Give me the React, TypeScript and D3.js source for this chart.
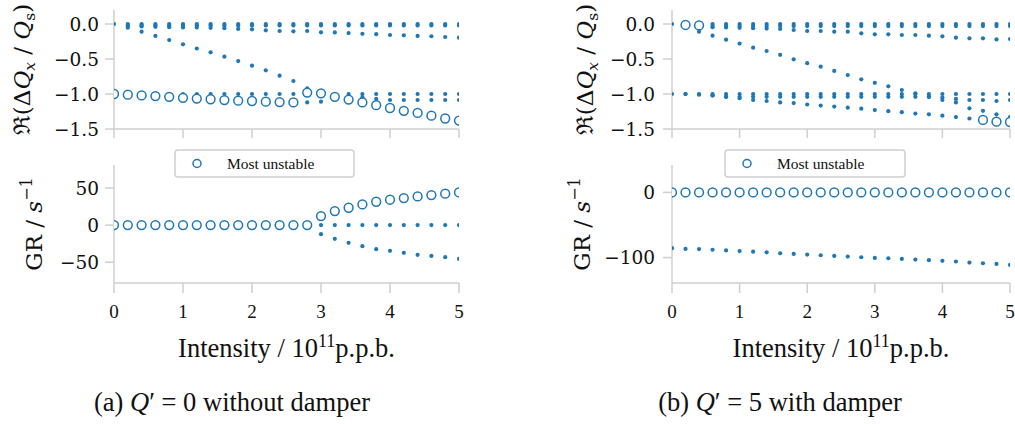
import React from "react";
import * as d3 from "d3";

// ---------- data ----------
const intensity = [0, 0.2, 0.4, 0.6, 0.8, 1.0, 1.2, 1.4, 1.6, 1.8, 2.0, 2.2, 2.4, 2.6, 2.8, 3.0, 3.2, 3.4, 3.6, 3.8, 4.0, 4.2, 4.4, 4.6, 4.8, 5.0];

type S = (number | null)[];

// (a) Q' = 0 without damper : real tune shift of all modes
const aReZero: S = [0, 0, 0, 0, 0, 0, 0, 0, 0, 0, 0, 0, 0, 0, 0, 0, 0, 0, 0, 0, 0, 0, 0, 0, 0, 0];
const aReNearZero: S = [null, -0.02, -0.02, -0.02, -0.02, -0.02, -0.02, -0.02, -0.02, -0.02, -0.02, -0.02, -0.02, -0.02, -0.02, -0.02, -0.02, -0.02, -0.02, -0.02, -0.02, -0.02, -0.02, -0.02, -0.02, -0.02];
const aReSlow: S = [null, -0.03, -0.035, -0.04, -0.045, -0.05, -0.05, -0.055, -0.06, -0.071, -0.076, -0.09, -0.1, -0.105, -0.1, -0.119, -0.12, -0.13, -0.14, -0.145, -0.157, -0.162, -0.17, -0.175, -0.186, -0.195];
const aReFast: S = [null, -0.052, -0.11, -0.17, -0.23, -0.29, -0.35, -0.405, -0.467, -0.53, -0.595, -0.662, -0.738, -0.814, -0.92, null, null, null, null, null, null, null, null, null, null, null];
const aReMinusOne: S = [-1, -1, -1, -1, -1, -1, -1, -1, -1, -1, -1, -1, -1, -1, -1, -1, -1, -1, -1, -1, -1, -1, -1, -1, -1, -1];
const aReLow: S = [null, null, null, null, null, null, null, null, null, null, null, null, null, null, -1.12, -1.11, -1.07, -1.06, -1.045, -1.07, -1.086, -1.086, -1.086, -1.086, -1.086, -1.086];
const aReMostUnstable: S = [-1.0, -1.01, -1.02, -1.03, -1.04, -1.055, -1.065, -1.075, -1.087, -1.095, -1.1, -1.11, -1.115, -1.12, -0.98, -0.99, -1.04, -1.08, -1.12, -1.16, -1.2, -1.24, -1.27, -1.31, -1.35, -1.38];
// growth rates
const aGrZero: S = [0, 0, 0, 0, 0, 0, 0, 0, 0, 0, 0, 0, 0, 0, 0, 0, 0, 0, 0, 0, 0, 0, 0, 0, 0, 0];
const aGrDamped: S = [null, null, null, null, null, null, null, null, null, null, null, null, null, null, null, -12.2, -18.5, -23.9, -28.4, -32.4, -34.7, -37.4, -40, -41.5, -43.2, -45.5];
const aGrMostUnstable: S = [0, 0, 0, 0, 0, 0, 0, 0, 0, 0, 0, 0, 0, 0, 0, 12.2, 18.9, 23.4, 27.9, 31.5, 34.2, 36.5, 38.7, 40.5, 42.3, 44.1];

// (b) Q' = 5 with damper
const bReZero: S = [0, 0, 0, 0, 0, 0, 0, 0, 0, 0, 0, 0, 0, 0, 0, 0, 0, 0, 0, 0, 0, 0, 0, 0, 0, 0];
const bReNearZero: S = [null, null, null, -0.03, -0.03, -0.03, -0.03, -0.03, -0.03, -0.03, -0.03, -0.03, -0.03, -0.03, -0.03, -0.03, -0.03, -0.03, -0.03, -0.03, -0.03, -0.03, -0.03, -0.03, -0.03, -0.03];
const bReSlow: S = [null, null, null, -0.045, -0.05, -0.055, -0.06, -0.065, -0.07, -0.086, -0.1, -0.1, -0.11, -0.11, -0.133, -0.148, -0.148, -0.157, -0.157, -0.167, -0.176, -0.195, -0.205, -0.205, -0.22, -0.214];
const bReFast: S = [null, -0.055, -0.11, -0.167, -0.224, -0.28, -0.338, -0.386, -0.44, -0.505, -0.56, -0.61, -0.67, -0.73, -0.79, -0.84, -0.89, -0.943, -0.99, -1.04, -1.086, -1.12, -1.205, -1.24, -1.29, -1.33];
const bReMinusOne: S = [-1, -1, -1, -1, -1, -1, -1, -1, -1, -1, -1, -1, -1, -1, -1, -1, -1, -1, -1, -1, -1, -1, -1, -1, -1, -1];
const bReMid: S = [null, null, null, -1.02, -1.04, -1.04, -1.04, -1.04, -1.04, -1.04, -1.04, -1.04, -1.04, -1.04, -1.04, -1.04, -1.04, -1.04, -1.04, -1.04, -1.05, -1.07, -1.086, -1.086, -1.1, -1.086];
const bReLow: S = [null, -1.0, -1.01, -1.02, -1.04, -1.06, -1.086, -1.1, -1.12, -1.13, -1.15, -1.165, -1.18, -1.195, -1.21, -1.23, -1.245, -1.26, -1.28, -1.29, -1.31, -1.33, -1.35, null, null, null];
const bReMostUnstable: S = [null, -0.014, -0.02, null, null, null, null, null, null, null, null, null, null, null, null, null, null, null, null, null, null, null, null, -1.37, -1.395, -1.4];
const bGrDamped: S = [-85.6, -86.7, -87, -88, -89, -90, -91, -92, -93.4, -94.4, -95.4, -96.4, -97.4, -98.5, -99.5, -100.5, -101, -102, -103, -104, -105, -106, -107.6, -108.7, -109.7, -111.2];
const bGrMostUnstable: S = [0, 0, 0, 0, 0, 0, 0, 0, 0, 0, 0, 0, 0, 0, 0, 0, 0, 0, 0, 0, 0, 0, 0, 0, 0, 0];

const xTicks = [0, 1, 2, 3, 4, 5];
const reTicks = [0, -0.5, -1.0, -1.5];
const aGrTicks = [50, 0, -50];
const bGrTicks = [0, -100];
const legendLabel = "Most unstable";

// ---------- styling ----------
const BLUE = "#1f77b4";
const SPINE = "#cdd1cd";
const TEXT_FONT = "'Liberation Serif', 'DejaVu Serif', serif";
const MATH_FONT = "'DejaVu Serif', 'Liberation Serif', serif";

const fmtTick = (v: number, digits: number) =>
  (v < 0 ? "\u2212" : "") + Math.abs(v).toFixed(digits);

type PanelProps = {
  id: string;
  xRange: [number, number];
  reSeries: S[];
  reCircles: S;
  grSeries: S[];
  grCircles: S;
  grDomain: [number, number];
  grTicks: number[];
  tickLabelX: number;
  reLabelX: number;
  grLabelX: number;
  legendX: [number, number];
  caption: React.ReactNode;
  captionX: number;
};

const TOP: [number, number] = [129, 10];
const BOT: [number, number] = [283, 165];

function Panel(p: PanelProps) {
  const x = d3.scaleLinear().domain([0, 5]).range(p.xRange);
  const yRe = d3.scaleLinear().domain([-1.5, 0.2]).range(TOP);
  const yGr = d3.scaleLinear().domain(p.grDomain).range(BOT);
  const [xl, xr] = p.xRange;

  const dots = (series: S[], y: d3.ScaleLinear<number, number>) =>
    series.flatMap((s, si) =>
      s.map((v, i) =>
        v === null ? null : (
          <circle key={`${si}-${i}`} cx={x(intensity[i])} cy={y(v)} r={2.1} fill={BLUE} />
        )
      )
    );
  const rings = (s: S, y: d3.ScaleLinear<number, number>) =>
    s.map((v, i) =>
      v === null ? null : (
        <circle key={`c${i}`} cx={x(intensity[i])} cy={y(v)} r={4.4} fill="white" stroke={BLUE} strokeWidth={1.5} />
      )
    );

  const reCenter = (TOP[0] + TOP[1]) / 2;
  const grCenter = (BOT[0] + BOT[1]) / 2;

  return (
    <g>
      <defs>
        <clipPath id={`${p.id}-top`}>
          <rect x={xl} y={TOP[1]} width={xr - xl} height={TOP[0] - TOP[1]} />
        </clipPath>
        <clipPath id={`${p.id}-bot`}>
          <rect x={xl} y={BOT[1]} width={xr - xl} height={BOT[0] - BOT[1]} />
        </clipPath>
      </defs>

      {/* spines and ticks */}
      <g stroke={SPINE} strokeWidth={1.5} fill="none">
        <line x1={xl} x2={xl} y1={TOP[1]} y2={TOP[0]} />
        <line x1={xl} x2={xr} y1={TOP[0]} y2={TOP[0]} />
        {reTicks.map((t) => (
          <line key={t} x1={xl - 9} x2={xl} y1={yRe(t)} y2={yRe(t)} />
        ))}
        {xTicks.map((t) => (
          <line key={t} x1={x(t)} x2={x(t)} y1={TOP[0]} y2={TOP[0] + 9} />
        ))}
        <line x1={xl} x2={xl} y1={BOT[1]} y2={BOT[0]} />
        <line x1={xl} x2={xr} y1={BOT[0]} y2={BOT[0]} />
        {p.grTicks.map((t) => (
          <line key={t} x1={xl - 9} x2={xl} y1={yGr(t)} y2={yGr(t)} />
        ))}
        {xTicks.map((t) => (
          <line key={t} x1={x(t)} x2={x(t)} y1={BOT[0]} y2={BOT[0] + 10} />
        ))}
      </g>

      {/* tick labels */}
      <g fontFamily={MATH_FONT} fontSize={18.5} textAnchor="end" fill="#111">
        {reTicks.map((t) => (
          <text key={t} x={p.tickLabelX} y={yRe(t)} dy="0.36em">{fmtTick(t, 1)}</text>
        ))}
        {p.grTicks.map((t) => (
          <text key={t} x={p.tickLabelX} y={yGr(t)} dy="0.36em">{fmtTick(t, 0)}</text>
        ))}
      </g>
      <g fontFamily={TEXT_FONT} fontSize={19} textAnchor="middle" fill="#111">
        {xTicks.map((t) => (
          <text key={t} x={x(t)} y={318}>{t}</text>
        ))}
      </g>

      {/* data */}
      <g clipPath={`url(#${p.id}-top)`}>
        {dots(p.reSeries, yRe)}
        {rings(p.reCircles, yRe)}
      </g>
      <g clipPath={`url(#${p.id}-bot)`}>
        {dots(p.grSeries, yGr)}
        {rings(p.grCircles, yGr)}
      </g>

      {/* legend */}
      <g>
        <rect x={p.legendX[0]} y={150} width={p.legendX[1] - p.legendX[0]} height={27} rx={3} fill="white" stroke={SPINE} strokeWidth={1.5} />
        <circle cx={p.legendX[0] + 22} cy={163.5} r={4} fill="white" stroke={BLUE} strokeWidth={1.5} />
        <text x={p.legendX[0] + 52} y={169} fontFamily={TEXT_FONT} fontSize={15.5} fill="#111">{legendLabel}</text>
      </g>

      {/* y labels */}
      <text transform={`translate(${p.reLabelX},${reCenter}) rotate(-90)`} textAnchor="middle" fontFamily={MATH_FONT} fontSize={23} fill="#111">
        <tspan>ℜ(Δ</tspan>
        <tspan fontStyle="italic">Q</tspan>
        <tspan fontStyle="italic" fontSize={15.5} dy={5}>x</tspan>
        <tspan dy={-5}> / </tspan>
        <tspan fontStyle="italic">Q</tspan>
        <tspan fontSize={15.5} dy={5}>s</tspan>
        <tspan dy={-5}>)</tspan>
      </text>
      <text transform={`translate(${p.grLabelX},${grCenter}) rotate(-90)`} textAnchor="middle" fontFamily={MATH_FONT} fontSize={23} fill="#111">
        <tspan>GR / </tspan>
        <tspan fontStyle="italic">s</tspan>
        <tspan fontSize={16} dy={-10}>−1</tspan>
      </text>

      {/* x label */}
      <text x={(xl + xr) / 2} y={357} textAnchor="middle" fontFamily={TEXT_FONT} fontSize={26.5} fill="#111">
        <tspan>Intensity / 10</tspan>
        <tspan fontSize={18} dy={-10}>11</tspan>
        <tspan dy={10}>p.p.b.</tspan>
      </text>

      {/* caption */}
      <text x={p.captionX} y={411} textAnchor="middle" fontFamily={TEXT_FONT} fontSize={26.5} fill="#111">
        {p.caption}
      </text>
    </g>
  );
}

export default function App() {
  return (
    <svg width={1015} height={424} style={{ position: "absolute", left: 0, top: 0, background: "white" }}>
      <rect width={1015} height={424} fill="white" />
      <Panel
        id="a"
        xRange={[114, 459]}
        reSeries={[aReZero, aReNearZero, aReSlow, aReFast, aReMinusOne, aReLow]}
        reCircles={aReMostUnstable}
        grSeries={[aGrZero, aGrDamped]}
        grCircles={aGrMostUnstable}
        grDomain={[-78, 81]}
        grTicks={aGrTicks}
        tickLabelX={99}
        reLabelX={30}
        grLabelX={42}
        legendX={[175, 354]}
        captionX={232}
        caption={
          <>
            <tspan>(a) </tspan>
            <tspan fontStyle="italic">Q</tspan>
            <tspan>′ = 0 without damper</tspan>
          </>
        }
      />
      <Panel
        id="b"
        xRange={[672, 1010]}
        reSeries={[bReZero, bReNearZero, bReSlow, bReFast, bReMinusOne, bReMid, bReLow]}
        reCircles={bReMostUnstable}
        grSeries={[bGrDamped]}
        grCircles={bGrMostUnstable}
        grDomain={[-139, 42]}
        grTicks={bGrTicks}
        tickLabelX={655}
        reLabelX={593}
        grLabelX={590}
        legendX={[725, 905]}
        captionX={780}
        caption={
          <>
            <tspan>(b) </tspan>
            <tspan fontStyle="italic">Q</tspan>
            <tspan>′ = 5 with damper</tspan>
          </>
        }
      />
    </svg>
  );
}
